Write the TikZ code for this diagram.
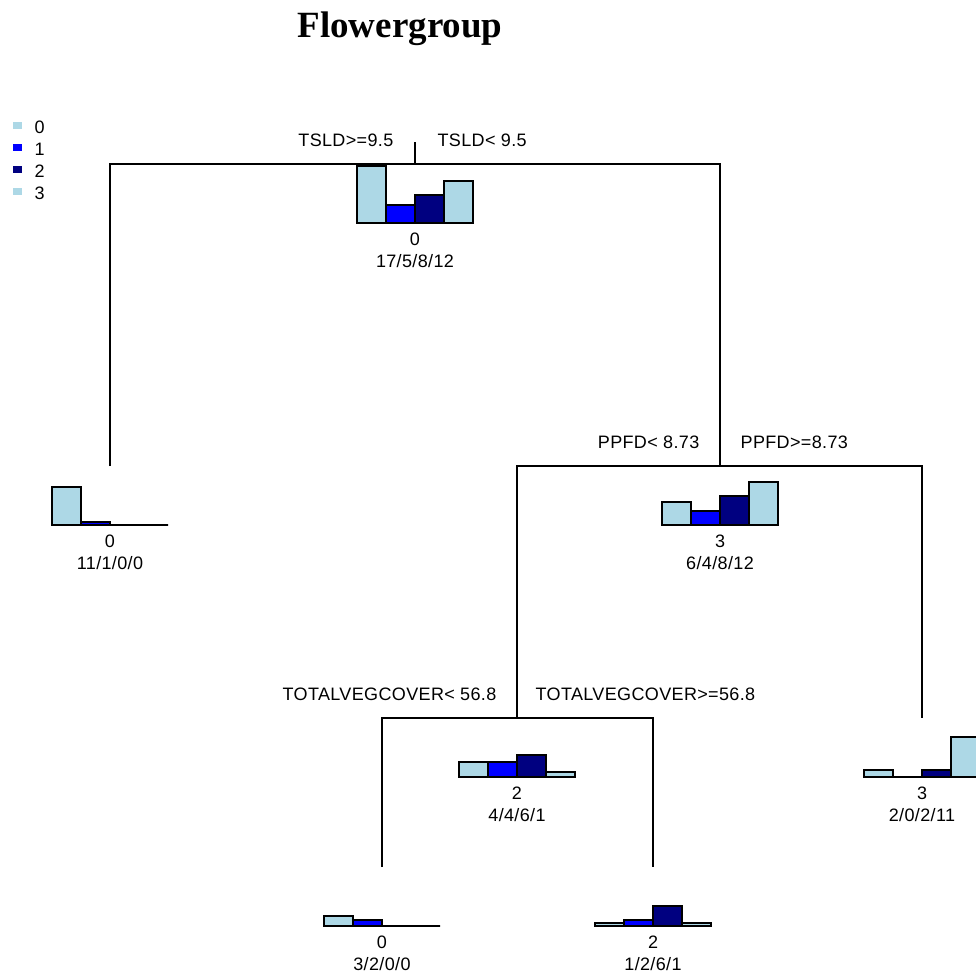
\documentclass[tikz,border=0pt]{standalone}
\usepackage{fontspec}
\setmainfont{Liberation Serif}
\newfontfamily\treefont[LetterSpace=2]{Liberation Sans}
\definecolor{cls0}{RGB}{173,216,230}
\definecolor{cls1}{RGB}{0,0,255}
\definecolor{cls2}{RGB}{0,0,128}
\definecolor{cls3}{RGB}{173,216,230}

\begin{document}
\begin{tikzpicture}[x=1pt,y=-1pt,line width=1.3pt,
  every node/.style={inner sep=0pt,font=\treefont\fontsize{18}{20}\selectfont},
  splitl/.style={anchor=base east},
  splitr/.style={anchor=base west},
  txt/.style={anchor=base}]
\useasboundingbox (0,0) rectangle (976,978);
\node[anchor=base,font=\bfseries\fontsize{37}{40}\selectfont] (title) at (400,37) {Flowergroup};
% legend
\foreach \k/\yy in {0/125,1/147,2/169,3/191} {
  \fill[cls\k] (13,\yy-3.5) rectangle (22,\yy+3.5);
  \node[anchor=west] (key\k) at (34,\yy+2.5) {\k};
}
% histograms, hung 59 below each junction
\foreach \nm/\cx/\cy/\ha/\hb/\hc/\hd in {root/415/164/57/18/28/42, leafA/110/466/38/3/0/0,
    ppfd/720/466/23/14/29/43, veg/517/718/15/15/22/5, leafB/922/718/7/0/7/40,
    leafC/382/867/10/6/0/0, leafD/653/867/3/6/20/3} {
  \coordinate (\nm) at (\cx,\cy);
  \foreach \h [count=\i from 0] in {\ha,\hb,\hc,\hd}
    \draw[fill=cls\i] ({\cx-58+29*\i},\cy+59) rectangle ++(29,-\h);
}
% tree
\coordinate (top) at (415,142);
\draw (top) -- (root);
\draw (leafA) |- (root) -| (ppfd);
\draw (veg) |- (ppfd) -| (leafB);
\draw (leafC) |- (veg) -| (leafD);
% split labels
\node[splitl] (tsld-ge) at ([shift={(-21pt,17.5pt)}]root) {TSLD>=9.5};
\node[splitr] (tsld-lt) at ([shift={(22pt,17.5pt)}]root) {TSLD< 9.5};
\node[splitl] (ppfd-lt) at ([shift={(-20pt,17.5pt)}]ppfd) {PPFD< 8.73};
\node[splitr] (ppfd-ge) at ([shift={(20pt,17.5pt)}]ppfd) {PPFD>=8.73};
\node[splitl] (veg-lt) at ([shift={(-20pt,17.5pt)}]veg) {TOTALVEGCOVER< 56.8};
\node[splitr] (veg-ge) at ([shift={(18pt,17.5pt)}]veg) {TOTALVEGCOVER>=56.8};
% class and counts
\node[txt] (root-c) at ([yshift=-81.5pt]root) {0};
\node[txt] (root-n) at ([yshift=-103.5pt]root) {17/5/8/12};
\node[txt] (leafA-c) at ([yshift=-81.5pt]leafA) {0};
\node[txt] (leafA-n) at ([yshift=-103.5pt]leafA) {11/1/0/0};
\node[txt] (ppfd-c) at ([yshift=-81.5pt]ppfd) {3};
\node[txt] (ppfd-n) at ([yshift=-103.5pt]ppfd) {6/4/8/12};
\node[txt] (veg-c) at ([yshift=-81.5pt]veg) {2};
\node[txt] (veg-n) at ([yshift=-103.5pt]veg) {4/4/6/1};
\node[txt] (leafB-c) at ([yshift=-81.5pt]leafB) {3};
\node[txt] (leafB-n) at ([yshift=-103.5pt]leafB) {2/0/2/11};
\node[txt] (leafC-c) at ([yshift=-81.5pt]leafC) {0};
\node[txt] (leafC-n) at ([yshift=-103.5pt]leafC) {3/2/0/0};
\node[txt] (leafD-c) at ([yshift=-81.5pt]leafD) {2};
\node[txt] (leafD-n) at ([yshift=-103.5pt]leafD) {1/2/6/1};
\end{tikzpicture}
\end{document}
